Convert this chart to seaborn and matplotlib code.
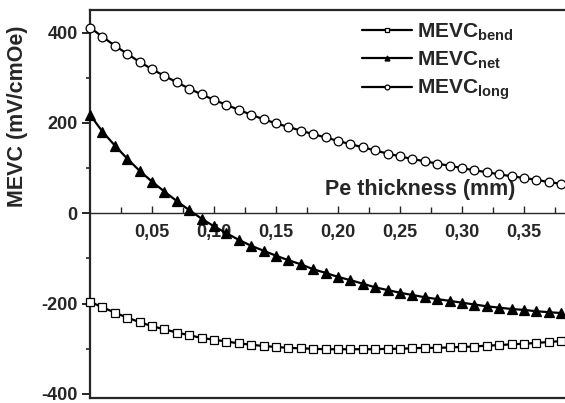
import matplotlib
matplotlib.use("Agg")
import matplotlib.pyplot as plt
import seaborn as sns
import numpy as np
import pandas as pd

# ---- data ----
thickness = [round(0.01 * i, 2) for i in range(39)]  # 0.00 ... 0.38 mm

mevc_bend = [-196, -208, -220, -231, -241, -250, -257, -264, -270, -276,
             -280, -284, -288, -291, -294, -296, -298, -299, -300, -301,
             -301, -301, -301, -301, -300, -300, -299, -298, -298, -297,
             -296, -295, -293, -292, -290, -289, -287, -285, -283]
mevc_net = [218, 181, 150, 121, 94, 70, 48, 27, 7, -12,
            -29, -44, -59, -72, -83, -94, -104, -113, -124, -132,
            -141, -148, -156, -164, -170, -176, -181, -186, -190, -194,
            -198, -202, -206, -209, -212, -214, -217, -219, -221]
mevc_long = [411, 391, 371, 353, 335, 319, 304, 290, 276, 263,
             251, 240, 229, 218, 208, 199, 191, 183, 175, 168,
             160, 153, 146, 139, 132, 126, 120, 115, 110, 105,
             100, 95, 91, 86, 82, 78, 74, 69, 65]

series_labels = [r"MEVC$_{\mathbf{bend}}$", r"MEVC$_{\mathbf{net}}$", r"MEVC$_{\mathbf{long}}$"]
x_major_ticks = [0.05, 0.10, 0.15, 0.20, 0.25, 0.30, 0.35]
x_tick_labels = ["0,05", "0,10", "0,15", "0,20", "0,25", "0,30", "0,35"]
y_major_ticks = [-400, -200, 0, 200, 400]
y_minor_ticks = [-300, -100, 100, 300]
x_minor_ticks = [0.025, 0.075, 0.125, 0.175, 0.225, 0.275, 0.325, 0.375]

# ---- style ----
sns.set_style("ticks")
plt.rcParams["font.family"] = ["Liberation Sans", "DejaVu Sans"]
plt.rcParams["font.weight"] = "bold"
plt.rcParams["axes.unicode_minus"] = False
plt.rcParams["mathtext.fontset"] = "custom"
plt.rcParams["mathtext.rm"] = "Liberation Sans:bold"
plt.rcParams["mathtext.bf"] = "Liberation Sans:bold"
plt.rcParams["mathtext.it"] = "Liberation Sans:bold"

fig = plt.figure(figsize=(5.65, 4.03), dpi=100)
ax = fig.add_axes([90 / 565, 5 / 403, 475 / 565, 388 / 403])

styles = [
    dict(marker="s", markerfacecolor="white", markersize=5.8),
    dict(marker="^", markerfacecolor="black", markersize=6.5),
    dict(marker="o", markerfacecolor="white", markersize=6.3),
]
for vals, lab, st in zip([mevc_bend, mevc_net, mevc_long], series_labels, styles):
    df = pd.DataFrame({"x": thickness, "y": vals})
    sns.lineplot(data=df, x="x", y="y", ax=ax, color="black", linewidth=1.6,
                 markeredgecolor="black", markeredgewidth=0.9,
                 label=lab, clip_on=False, zorder=3, **st)

ax.set_xlim(0, 0.383)
ax.set_ylim(-409, 450)

# axes / spines
ax.spines["bottom"].set_position(("data", 0))
ax.spines["bottom"].set_linewidth(1.0)
ax.spines["left"].set_linewidth(1.6)
ax.spines["top"].set_visible(True)
ax.spines["top"].set_linewidth(1.6)
ax.spines["right"].set_visible(False)

sec = ax.secondary_xaxis("bottom")
sec.set_xticks([])
sec.spines["bottom"].set_linewidth(1.6)

ax.set_xticks(x_major_ticks)
ax.set_xticklabels(x_tick_labels)
ax.set_xticks(x_minor_ticks, minor=True)
ax.set_yticks(y_major_ticks)
ax.set_yticks(y_minor_ticks, minor=True)

ax.tick_params(axis="x", which="both", direction="in", pad=8, labelsize=13,
               width=1.0)
ax.tick_params(axis="x", which="major", length=5)
ax.tick_params(axis="x", which="minor", length=4)
ax.tick_params(axis="y", which="major", direction="out", length=6, width=1.4,
               labelsize=13, pad=3)
ax.tick_params(axis="y", which="minor", direction="out", length=3, width=1.2)
ax.tick_params(top=False, right=False, which="both")

ax.set_xlabel("Pe thickness (mm)", fontsize=15.5, fontweight="bold")
ax.xaxis.set_label_coords(0.695, 0.565)
ax.set_ylabel("MEVC (mV/cmOe)", fontsize=15.5, fontweight="bold")
ax.yaxis.set_label_coords(-0.13, 0.725)

leg = ax.legend(loc="upper left", bbox_to_anchor=(0.55, 0.997), frameon=False,
                fontsize=15, markerscale=0.55, handlelength=2.4,
                handletextpad=0.25, labelspacing=0.33, borderpad=0)
for t in leg.get_texts():
    t.set_fontweight("bold")

fig.savefig("out.png", dpi=100)
